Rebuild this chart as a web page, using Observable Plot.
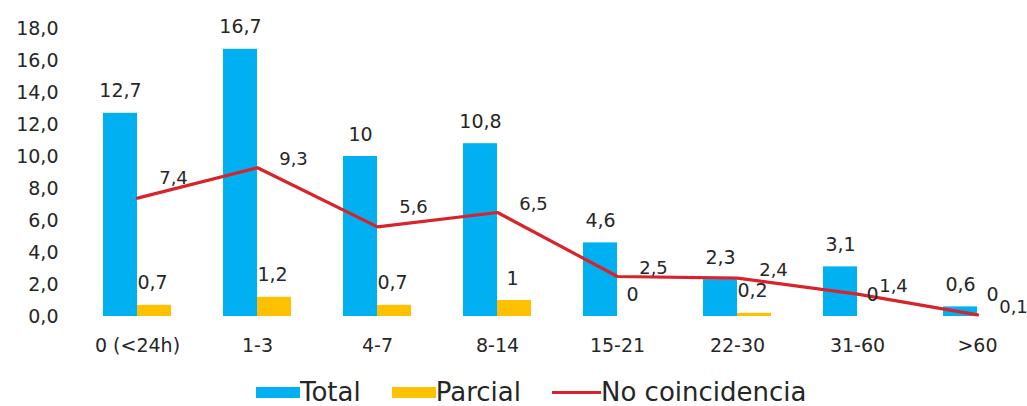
<!DOCTYPE html>
<html>
<head>
<meta charset="utf-8">
<script src="https://cdn.jsdelivr.net/npm/d3@7"></script>
<script src="https://cdn.jsdelivr.net/npm/@observablehq/plot@0.6"></script>
<style>
  html, body { margin: 0; padding: 0; background: #fff; overflow: hidden; }
  body { width: 1027px; height: 406px; position: relative; font-family: "DejaVu Sans", sans-serif; }
  #legend { position: absolute; left: 256px; top: 376px; height: 32px; display: flex; align-items: center;
    font-size: 26px; color: #262626; white-space: nowrap; }
  .item { display: flex; align-items: center; margin-right: 31px; }
  .sw { display: inline-block; width: 44px; height: 11px; }
  .ln { display: inline-block; width: 49px; height: 3px; }
</style>
</head>
<body>
<div id="chart"></div>
<div id="legend"></div>
<script>
const categories = ["0 (<24h)", "1-3", "4-7", "8-14", "15-21", "22-30", "31-60", ">60"];
const total = [12.7, 16.7, 10, 10.8, 4.6, 2.3, 3.1, 0.6];
const parcial = [0.7, 1.2, 0.7, 1, 0, 0.2, 0, 0];
const noCoincidencia = [7.4, 9.3, 5.6, 6.5, 2.5, 2.4, 1.4, 0.1];
const yTicks = [0, 2, 4, 6, 8, 10, 12, 14, 16, 18];
const seriesNames = ["Total", "Parcial", "No coincidencia"];
const colors = ["#00b0f0", "#ffc000", "#d9232a"];

const fmt = v => String(v).replace(".", ",");
const rows = categories.map((c, i) => ({
  cat: c, total: total[i], parcial: parcial[i], nc: noCoincidencia[i],
  // label goes above when the outgoing line segment rises or stays flat
  rising: i < categories.length - 1 && noCoincidencia[i + 1] >= noCoincidencia[i]
}));
const fs = 19;
const ink = "#262626";

const chart = Plot.plot({
  width: 1027,
  height: 376,
  marginLeft: 77,
  marginRight: 0,
  marginTop: 28,
  marginBottom: 60,
  style: {fontFamily: '"DejaVu Sans", sans-serif', fontSize: fs + "px", color: ink, overflow: "visible"},
  x: {domain: categories, range: [77, 1037], padding: 0},
  y: {domain: [0, 18]},
  marks: [
    Plot.gridY(yTicks, {stroke: "#e0e0e0", strokeOpacity: 1, x1: 77, x2: 1037}),
    Plot.axisY(yTicks, {tickSize: 0, tickPadding: 19, tickFormat: d => d.toFixed(1).replace(".", ","), fontSize: fs, fill: ink, label: null}),
    Plot.axisX({tickSize: 0, tickPadding: 22, fontSize: fs, fill: ink, label: null}),
    Plot.barY(rows, {x: "cat", y: "total", fill: colors[0], insetLeft: 26, insetRight: 60}),
    Plot.barY(rows, {x: "cat", y: "parcial", fill: colors[1], insetLeft: 60, insetRight: 26}),
    Plot.line(rows, {x: "cat", y: "nc", stroke: colors[2], strokeWidth: 3.2}),
    Plot.text(rows, {x: "cat", y: "total", text: d => fmt(d.total), dx: -17, dy: -22, fontSize: fs, fill: ink}),
    Plot.text(rows, {x: "cat", y: "parcial", text: d => fmt(d.parcial), dx: 15, dy: -22, fontSize: fs, fill: ink}),
    Plot.text(rows, {filter: d => d.rising, x: "cat", y: "nc", text: d => fmt(d.nc), dx: 36, dy: -20, fontSize: 18, fill: ink}),
    Plot.text(rows, {filter: d => !d.rising, x: "cat", y: "nc", text: d => fmt(d.nc), dx: 36, dy: -8, fontSize: 18, fill: ink})
  ]
});
document.getElementById("chart").appendChild(chart);

const legend = document.getElementById("legend");
seriesNames.forEach((name, i) => {
  const item = document.createElement("div");
  item.className = "item";
  const sw = document.createElement("span");
  sw.className = i === 2 ? "ln" : "sw";
  sw.style.background = colors[i];
  item.appendChild(sw);
  const t = document.createElement("span");
  t.textContent = name;
  item.appendChild(t);
  legend.appendChild(item);
});
</script>
</body>
</html>
